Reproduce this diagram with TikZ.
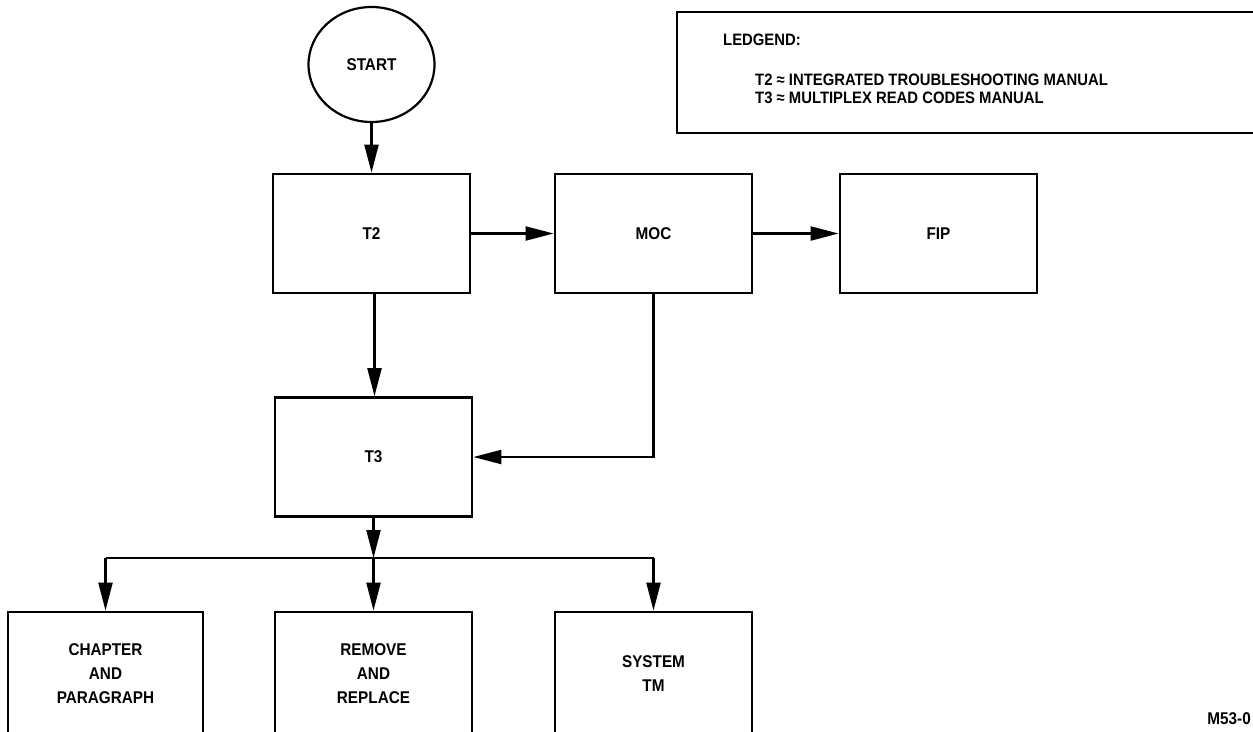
\documentclass[tikz,border=0pt]{standalone}
\usepackage{fontspec}
\setmainfont{Liberation Sans}[FakeStretch=0.9]
\usetikzlibrary{arrows.meta,shapes.geometric}
\newcommand\lblfont{\fontsize{17}{24}\selectfont\bfseries}
\newcommand\legfont{\fontsize{16.5}{18}\selectfont\bfseries}
\begin{document}
\begin{tikzpicture}[x=1pt,y=-1pt,
  box/.style={draw, line width=2.8pt, minimum width=197pt, minimum height=119pt, inner sep=0pt, align=center, font=\lblfont},
  openbox/.style={box, minimum height=124pt},
  startshape/.style={draw, ellipse, line width=2.2pt, minimum width=126pt, minimum height=115pt, inner sep=0pt, font=\lblfont},
  conn/.style={line width=2.2pt},
  arr/.style={conn, -{Triangle[length=28pt,width=14pt]}},
  legtext/.style={anchor=west, inner sep=0pt, font=\legfont}
]
\useasboundingbox (0,0) rectangle (1253,731);
\clip (0,0) rectangle (1253,731);

\node[startshape] (start) at (371.5,64.5) {START};
\node[box] (t2) at (371.5,233.5) {T2};
\node[box] (moc) at (653.5,233.5) {MOC};
\node[box] (fip) at (938.5,233.5) {FIP};
\node[box] (t3) at (373.5,457) {T3};
\node[openbox, minimum width=195pt] (chap) at (105.5,674) {CHAPTER\\AND\\PARAGRAPH};
\node[openbox] (rem) at (373.5,674) {REMOVE\\AND\\REPLACE};
\node[openbox] (sys) at (653.5,674) {SYSTEM\\TM};

\coordinate (junc) at (373.5,558);

\draw[arr] (start.south) -- (start.south |- t2.north);
\draw[arr] (t2.east) -- (moc.west);
\draw[arr] (moc.east) -- (fip.west);
\draw[arr] ([xshift=3pt]t2.south) -- ([xshift=3pt]t2.south |- t3.north);
\draw[arr] (moc.south) |- (t3.east);
\draw[arr] (t3.south) -- (junc);
\draw[conn] (junc -| chap.north) -- (junc -| sys.north);
\draw[arr] (junc -| chap.north) -- (chap.north);
\draw[arr] (junc) -- (rem.north);
\draw[arr] (junc -| sys.north) -- (sys.north);

\draw[line width=2.8pt] (677,12) rectangle (1280,133);
\node[legtext] (lg) at (723,40) {LEDGEND:};
\node[legtext] (l2) at (755,80) {T2 ≈ INTEGRATED TROUBLESHOOTING MANUAL};
\node[legtext] (l3) at (755,98) {T3 ≈ MULTIPLEX READ CODES MANUAL};

\node[anchor=east, inner sep=0pt, font=\lblfont] (code) at (1251,719) {M53-0};
\end{tikzpicture}
\end{document}
